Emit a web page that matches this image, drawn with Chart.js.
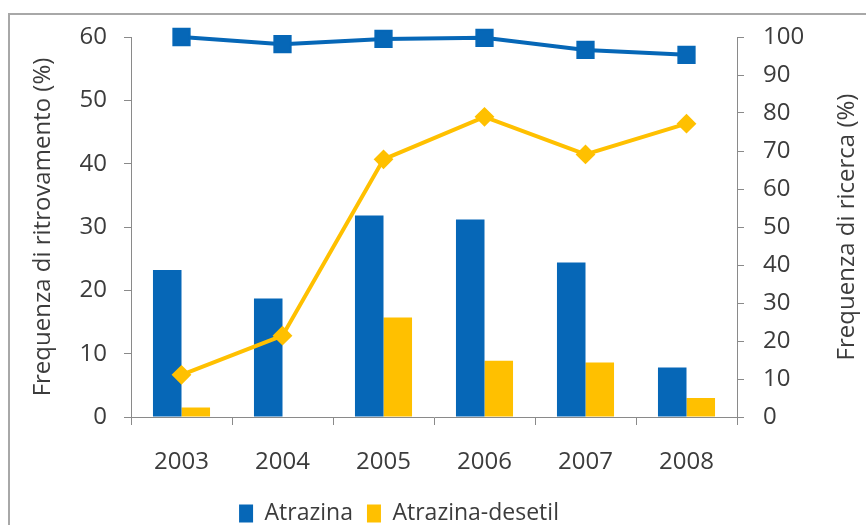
<!DOCTYPE html>
<html lang="it">
<head>
<meta charset="UTF-8">
<title>Atrazina</title>
<style>
    html, body {
        margin: 0;
        padding: 0;
        background: #fff;
        overflow: hidden;
    }
    .frame {
        position: absolute;
        left: 8px;
        top: 13px;
        width: 1000px;
        height: 700px;
        border: 2px solid #a8a8a8;
    }
    #chart {
        position: absolute;
        left: 0;
        top: 0;
    }
</style>
</head>
<body>
<div class="frame"></div>
<canvas id="chart" width="866" height="545"></canvas>

<script src="https://cdn.jsdelivr.net/npm/chart.js"></script>
<script>
    // years on the x axis
    const anni = ['2003', '2004', '2005', '2006', '2007', '2008'];

    // frequenza di ritrovamento (%), left axis - bars
    const ritrovamentoAtrazina = [23.2, 18.7, 31.8, 31.2, 24.4, 7.8];
    const ritrovamentoDesetil = [1.5, 0, 15.7, 8.9, 8.6, 3.0];

    // frequenza di ricerca (%), right axis - lines
    const ricercaAtrazina = [100, 98.1, 99.5, 99.8, 96.6, 95.3];
    const ricercaDesetil = [11.1, 21.4, 67.8, 79.0, 69.1, 77.2];

    const BLUE = '#0667b7';
    const YELLOW = '#ffc000';
    const AXIS = '#8a8a8a';
    const TEXT = '#3c3c3c';
    const FAMILY = "'Open Sans', sans-serif";
    const TICK_FONT = { family: FAMILY, size: 24 };
    const TITLE_FONT = { family: FAMILY, size: 24 };
    const LEGEND_FONT = { family: FAMILY, size: 23 };

    // right axis title reads bottom-to-top like the left one
    const rightTitle = {
        id: 'rightTitle',
        afterDraw(chart) {
            const ctx = chart.ctx;
            const s = chart.scales.y2;
            ctx.save();
            ctx.translate(847, (s.top + s.bottom) / 2);
            ctx.rotate(-Math.PI / 2);
            ctx.font = '24px ' + FAMILY;
            ctx.fillStyle = TEXT;
            ctx.textAlign = 'center';
            ctx.textBaseline = 'middle';
            ctx.fillText('Frequenza di ricerca (%)', 0, 0);
            ctx.restore();
        }
    };

    // nudge the legend to the left
    const legendShift = {
        id: 'legendShift',
        afterLayout(chart) {
            chart.legend.left -= 47;
            chart.legend.right -= 47;
        }
    };

    const ctx = document.getElementById('chart').getContext('2d');
    new Chart(ctx, {
        data: {
            labels: anni,
            datasets: [
                {
                    type: 'line',
                    label: 'Ricerca Atrazina',
                    data: ricercaAtrazina,
                    yAxisID: 'y2',
                    borderColor: BLUE,
                    backgroundColor: BLUE,
                    borderWidth: 4,
                    pointStyle: 'rect',
                    pointRadius: 11.5,
                    pointBorderWidth: 2,
                    tension: 0,
                    clip: false
                },
                {
                    type: 'line',
                    label: 'Ricerca Atrazina-desetil',
                    data: ricercaDesetil,
                    yAxisID: 'y2',
                    borderColor: YELLOW,
                    backgroundColor: YELLOW,
                    borderWidth: 4,
                    pointStyle: 'rectRot',
                    pointRadius: 8.5,
                    pointBorderWidth: 2,
                    tension: 0,
                    clip: false
                },
                {
                    type: 'bar',
                    label: 'Atrazina',
                    data: ritrovamentoAtrazina,
                    yAxisID: 'y',
                    backgroundColor: BLUE,
                    barPercentage: 1.0,
                    categoryPercentage: 0.565
                },
                {
                    type: 'bar',
                    label: 'Atrazina-desetil',
                    data: ritrovamentoDesetil,
                    yAxisID: 'y',
                    backgroundColor: YELLOW,
                    barPercentage: 1.0,
                    categoryPercentage: 0.565
                }
            ]
        },
        options: {
            responsive: false,
            animation: false,
            layout: {
                padding: { left: 26, right: 0, top: 37, bottom: 10 }
            },
            plugins: {
                tooltip: { enabled: false },
                legend: {
                    position: 'bottom',
                    labels: {
                        filter: item => item.text === 'Atrazina' || item.text === 'Atrazina-desetil',
                        boxWidth: 14,
                        boxHeight: 18,
                        padding: 14,
                        color: TEXT,
                        font: LEGEND_FONT
                    }
                }
            },
            scales: {
                x: {
                    offset: true,
                    grid: {
                        offset: true,
                        drawOnChartArea: false,
                        tickLength: 8,
                        color: AXIS
                    },
                    border: { color: AXIS },
                    ticks: { color: TEXT, font: TICK_FONT, padding: 23 },
                    afterFit: s => { s.height = 71; }
                },
                y: {
                    position: 'left',
                    min: 0,
                    max: 60,
                    ticks: { stepSize: 10, color: TEXT, font: TICK_FONT, padding: 17 },
                    grid: { drawOnChartArea: false, tickLength: 7, color: AXIS },
                    border: { color: AXIS },
                    title: {
                        display: true,
                        text: 'Frequenza di ritrovamento (%)',
                        color: TEXT,
                        font: TITLE_FONT,
                        padding: { top: 3, bottom: 0 }
                    },
                    afterFit: s => { s.width = 105; }
                },
                y2: {
                    position: 'right',
                    min: 0,
                    max: 100,
                    ticks: { stepSize: 10, color: TEXT, font: TICK_FONT, padding: 19 },
                    grid: { drawOnChartArea: false, tickLength: 7, color: AXIS },
                    border: { color: AXIS },
                    afterFit: s => { s.width = 129; }
                }
            }
        },
        plugins: [rightTitle, legendShift]
    });
</script>
</body>
</html>
